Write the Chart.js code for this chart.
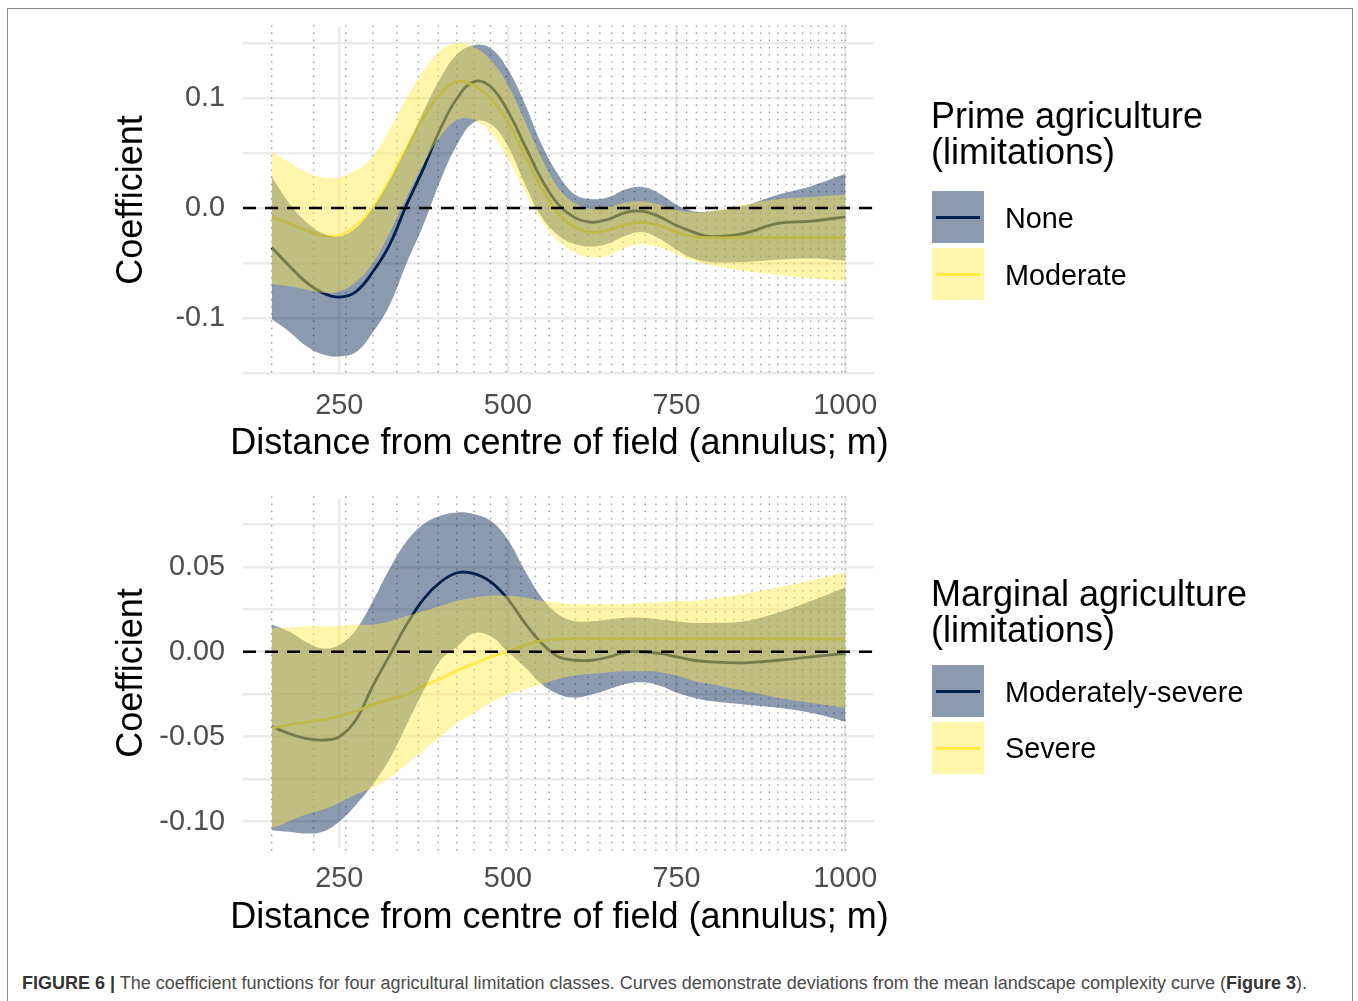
<!DOCTYPE html>
<html>
<head>
<meta charset="utf-8">
<script src="https://cdn.jsdelivr.net/npm/chart.js@4.4.0/dist/chart.umd.min.js"></script>
<style>
  body { margin: 0; background: #fff; font-family: "Liberation Sans", Arial, sans-serif; }
  #page { position: relative; width: 1358px; height: 1001px; overflow: hidden; }
  #frame { position: absolute; left: 7px; top: 8px; width: 1344px; height: 1020px; border: 1.5px solid #8a8a8a; border-bottom: none; }
  canvas { position: absolute; left: 0; }
  #top { top: 0; }
  #bottom { top: 470px; }
  .ltitle { position: absolute; left: 931px; font-size: 36px; line-height: 36px; color: #000; white-space: nowrap; }
  .key { position: absolute; left: 932px; width: 52px; height: 52px; }
  .key i { position: absolute; left: 4px; right: 4px; top: 24.5px; height: 3px; }
  .blue { background: rgba(0, 32, 77, 0.45); }
  .blue i { background: #00204d; }
  .yellow { background: rgba(255, 234, 70, 0.45); }
  .yellow i { background: #ffea46; }
  .lab { position: absolute; left: 1005px; font-size: 28.8px; line-height: 30px; color: #000; white-space: nowrap; }
  #caption { position: absolute; left: 22px; top: 973px; font-size: 18px; line-height: 20px; color: #4a4a4a; white-space: nowrap; }
  #caption b { color: #333; }
</style>
</head>
<body>
<div id="page">
  <div id="frame"></div>
  <canvas id="top" width="1358" height="470"></canvas>
  <canvas id="bottom" width="1358" height="490"></canvas>

  <div class="ltitle" style="top:98px">Prime agriculture<br>(limitations)</div>
  <div class="key blue" style="top:191px"><i></i></div>
  <div class="key yellow" style="top:248px"><i></i></div>
  <div class="lab" style="top:203px">None</div>
  <div class="lab" style="top:260px">Moderate</div>

  <div class="ltitle" style="top:576px">Marginal agriculture<br>(limitations)</div>
  <div class="key blue" style="top:665px"><i></i></div>
  <div class="key yellow" style="top:722px"><i></i></div>
  <div class="lab" style="top:677px">Moderately-severe</div>
  <div class="lab" style="top:733px">Severe</div>

  <div id="caption"><b>FIGURE 6 |</b> The coefficient functions for four agricultural limitation classes. Curves demonstrate deviations from the mean landscape complexity curve (<b>Figure 3</b>).</div>
</div>
<script>
// distance from centre of field (m)
var distance = [150, 175, 200, 225, 250, 275, 300, 325, 350, 375, 400, 425, 450, 475, 500, 525, 550, 575, 600, 625, 650, 675, 700, 725, 750, 775, 800, 850, 900, 950, 1000];

// Prime agriculture
var primeNone   = [-0.036, -0.052, -0.067, -0.077, -0.081, -0.076, -0.058, -0.033, 0.003, 0.036, 0.072, 0.100, 0.115, 0.110, 0.088, 0.057, 0.026, 0.003, -0.009, -0.013, -0.010, -0.004, -0.003, -0.008, -0.016, -0.022, -0.026, -0.023, -0.014, -0.012, -0.008];
var primeNoneHi = [0.0285, 0.005, -0.012, -0.023, -0.026, -0.018, 0.000, 0.025, 0.055, 0.088, 0.118, 0.140, 0.148, 0.145, 0.126, 0.095, 0.058, 0.030, 0.012, 0.008, 0.010, 0.017, 0.019, 0.013, 0.003, -0.003, -0.003, 0.002, 0.012, 0.020, 0.031];
var primeNoneLo = [-0.101, -0.112, -0.125, -0.133, -0.135, -0.131, -0.113, -0.088, -0.050, -0.015, 0.025, 0.058, 0.078, 0.076, 0.056, 0.022, -0.008, -0.025, -0.033, -0.035, -0.032, -0.025, -0.022, -0.028, -0.038, -0.046, -0.049, -0.049, -0.047, -0.046, -0.048];
var primeModerate   = [-0.008, -0.014, -0.020, -0.025, -0.025, -0.016, 0.000, 0.026, 0.055, 0.082, 0.104, 0.115, 0.111, 0.099, 0.078, 0.048, 0.018, -0.005, -0.018, -0.022, -0.020, -0.015, -0.013, -0.016, -0.022, -0.026, -0.027, -0.027, -0.027, -0.027, -0.027];
var primeModerateHi = [0.051, 0.042, 0.033, 0.028, 0.028, 0.034, 0.047, 0.072, 0.100, 0.125, 0.143, 0.150, 0.146, 0.134, 0.112, 0.079, 0.045, 0.018, 0.004, -0.001, 0.001, 0.005, 0.006, 0.003, -0.002, -0.004, -0.003, 0.003, 0.008, 0.010, 0.012];
var primeModerateLo = [-0.069, -0.071, -0.074, -0.077, -0.076, -0.067, -0.050, -0.022, 0.010, 0.040, 0.065, 0.080, 0.080, 0.068, 0.045, 0.015, -0.012, -0.030, -0.041, -0.045, -0.043, -0.036, -0.033, -0.036, -0.042, -0.048, -0.052, -0.057, -0.061, -0.064, -0.066];

// Marginal agriculture
var marginalModSevere   = [-0.044, -0.048, -0.051, -0.052, -0.050, -0.040, -0.020, -0.002, 0.016, 0.031, 0.041, 0.0465, 0.046, 0.041, 0.031, 0.017, 0.005, -0.003, -0.005, -0.005, -0.003, 0.000, 0.000, -0.001, -0.003, -0.005, -0.006, -0.0065, -0.005, -0.003, -0.001];
var marginalModSevereHi = [0.016, 0.012, 0.006, 0.002, 0.004, 0.013, 0.030, 0.049, 0.065, 0.075, 0.080, 0.082, 0.081, 0.077, 0.066, 0.048, 0.032, 0.022, 0.018, 0.018, 0.019, 0.020, 0.020, 0.019, 0.018, 0.017, 0.017, 0.018, 0.023, 0.030, 0.038];
var marginalModSevereLo = [-0.105, -0.106, -0.107, -0.106, -0.100, -0.090, -0.078, -0.063, -0.043, -0.023, -0.005, 0.003, 0.011, 0.009, 0.000, -0.009, -0.019, -0.025, -0.027, -0.025, -0.022, -0.019, -0.018, -0.020, -0.024, -0.027, -0.029, -0.031, -0.033, -0.036, -0.041];
var marginalSevere   = [-0.045, -0.043, -0.0415, -0.040, -0.038, -0.035, -0.031, -0.028, -0.025, -0.020, -0.016, -0.011, -0.007, -0.003, 0.000, 0.004, 0.0065, 0.0075, 0.0078, 0.0078, 0.0078, 0.0078, 0.0078, 0.0078, 0.0078, 0.0078, 0.0078, 0.0078, 0.0077, 0.0076, 0.0075];
var marginalSevereHi = [0.014, 0.014, 0.015, 0.015, 0.015, 0.016, 0.016, 0.018, 0.021, 0.024, 0.027, 0.030, 0.032, 0.033, 0.033, 0.032, 0.030, 0.029, 0.028, 0.028, 0.028, 0.028, 0.029, 0.029, 0.030, 0.030, 0.031, 0.034, 0.038, 0.042, 0.047];
var marginalSevereLo = [-0.104, -0.100, -0.096, -0.093, -0.089, -0.084, -0.080, -0.074, -0.066, -0.058, -0.050, -0.042, -0.036, -0.030, -0.025, -0.022, -0.019, -0.016, -0.014, -0.013, -0.012, -0.0115, -0.0115, -0.012, -0.014, -0.017, -0.019, -0.023, -0.027, -0.030, -0.033];

// axes
var xTicks = [250, 500, 750, 1000];
var primeYGrid = [-0.15, -0.1, -0.05, 0, 0.05, 0.1, 0.15];
var primeYLabels = [-0.1, 0, 0.1];
var marginalYGrid = [-0.1, -0.075, -0.05, -0.025, 0, 0.025, 0.05, 0.075];
var marginalYLabels = [-0.1, -0.05, 0, 0.05];
var xTitle = 'Distance from centre of field (annulus; m)';

// annulus edges (equal-area rings of the sampling design)
var annulusEdges = [];
for (var k = 1; k <= 44; k++) annulusEdges.push(150 * Math.sqrt(k));
annulusEdges.push(1000);

var xMin = 107.5, xMax = 1042.5;
var FONT = '"Liberation Sans", Arial, sans-serif';
var NAVY = '#00204d', YELLOW = '#ffea46';
var NAVY_FILL = 'rgba(0, 32, 77, 0.45)', YELLOW_FILL = 'rgba(255, 234, 70, 0.45)';

function pts(ys) {
  return distance.map(function (d, i) { return { x: d, y: ys[i] }; });
}

var annulusDots = {
  id: 'annulusDots',
  beforeDatasetsDraw: function (chart) {
    var ctx = chart.ctx, a = chart.chartArea, xs = chart.scales.x;
    ctx.save();
    ctx.strokeStyle = '#a3a3a3';
    ctx.lineWidth = 1.7;
    ctx.lineCap = 'round';
    ctx.setLineDash([0, 7.2]);
    annulusEdges.forEach(function (d) {
      var px = xs.getPixelForValue(d);
      ctx.beginPath();
      ctx.moveTo(px, a.top - 1);
      ctx.lineTo(px, a.bottom + 4);
      ctx.stroke();
    });
    ctx.restore();
  }
};

// x title drawn without the scale's maxWidth squeeze
var xAxisTitle = {
  id: 'xAxisTitle',
  afterDraw: function (chart, args, opts) {
    var ctx = chart.ctx, a = chart.chartArea;
    ctx.save();
    ctx.font = '36px ' + FONT;
    ctx.fillStyle = '#000';
    ctx.textAlign = 'center';
    ctx.textBaseline = 'middle';
    ctx.fillText(xTitle, (a.left + a.right) / 2 + 1, opts.y);
    ctx.restore();
  }
};

function panel(id, s, o) {
  var line = function (ys, color, order) {
    return { data: pts(ys), borderColor: color, borderWidth: 2.8, pointRadius: 0, fill: false, order: order, tension: 0.4 };
  };
  var band = function (ys, fill, target, order) {
    return { data: pts(ys), borderWidth: 0, borderColor: 'rgba(0,0,0,0)', backgroundColor: fill, pointRadius: 0, fill: target, order: order, tension: 0.4 };
  };
  return new Chart(document.getElementById(id), {
    type: 'line',
    data: {
      datasets: [
        line(s.a, NAVY, 6),
        line(s.b, YELLOW, 5),
        band(s.aHi, NAVY_FILL, 3, 4),
        band(s.aLo, 'rgba(0,0,0,0)', false, 4),
        band(s.bHi, YELLOW_FILL, 5, 2),
        band(s.bLo, 'rgba(0,0,0,0)', false, 2),
        { data: [{ x: xMin, y: 0 }, { x: xMax, y: 0 }], borderColor: '#000', borderWidth: 2.6, borderDash: [13, 9], pointRadius: 0, fill: false, order: 0 }
      ]
    },
    plugins: [annulusDots, xAxisTitle],
    options: {
      responsive: false,
      animation: false,
      events: [],
      layout: { padding: { left: 0, right: 484, top: o.top, bottom: 0 } },
      plugins: { legend: { display: false }, tooltip: { enabled: false }, xAxisTitle: { y: o.xTitleY } },
      scales: {
        x: {
          type: 'linear', min: xMin, max: xMax,
          afterBuildTicks: function (sc) { sc.ticks = xTicks.map(function (v) { return { value: v }; }); },
          afterFit: function (sc) { sc.height = o.xHeight; sc.paddingLeft = 0; sc.paddingRight = 0; },
          border: { display: false },
          grid: { color: '#ebebeb', lineWidth: 2.6, drawTicks: false },
          ticks: { autoSkip: false, maxRotation: 0, padding: o.xTickPad, color: '#4d4d4d', font: { family: FONT, size: 28.8 }, callback: function (v) { return String(v); } }
        },
        y: {
          min: o.yMin, max: o.yMax,
          afterBuildTicks: function (sc) { sc.ticks = o.yGrid.map(function (v) { return { value: v }; }); },
          afterFit: function (sc) { sc.width = 243; sc.paddingTop = 0; sc.paddingBottom = 0; },
          border: { display: false },
          grid: { color: '#ebebeb', lineWidth: 2.6, drawTicks: false },
          ticks: {
            autoSkip: false, padding: 18, color: '#4d4d4d', font: { family: FONT, size: 28.8 },
            callback: function (v) {
              var show = o.yLabels.some(function (t) { return Math.abs(t - v) < 1e-9; });
              return show ? v.toFixed(o.dec) : '';
            }
          },
          title: { display: true, text: 'Coefficient', color: '#000', font: { family: FONT, size: 36 }, padding: { top: 110, bottom: 0 } }
        }
      }
    }
  });
}

panel('top',
  { a: primeNone, aHi: primeNoneHi, aLo: primeNoneLo, b: primeModerate, bHi: primeModerateHi, bLo: primeModerateLo },
  { yMin: -0.150, yMax: 0.1645, yGrid: primeYGrid, yLabels: primeYLabels, dec: 1, top: 27, xHeight: 97, xTickPad: 16, xTitleY: 444 });

panel('bottom',
  { a: marginalModSevere, aHi: marginalModSevereHi, aLo: marginalModSevereLo, b: marginalSevere, bHi: marginalSevereHi, bLo: marginalSevereLo },
  { yMin: -0.1155, yMax: 0.0905, yGrid: marginalYGrid, yLabels: marginalYLabels, dec: 2, top: 28, xHeight: 112, xTickPad: 14, xTitleY: 448 });
</script>
</body>
</html>
